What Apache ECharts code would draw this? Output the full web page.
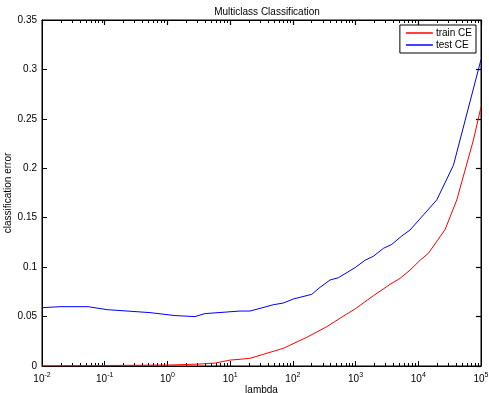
<!DOCTYPE html>
<html>
<head>
<meta charset="utf-8">
<script src="https://cdn.jsdelivr.net/npm/echarts@6/dist/echarts.min.js"></script>
<style>
  html, body { margin: 0; padding: 0; background: #fff; }
  #chart { width: 489px; height: 393px; }
</style>
</head>
<body>
<div id="chart"></div>
<script>
// values (lambda, classification error)
const trainLambda = [0.01, 1.1, 3.3, 5.8, 10, 14.4, 20.7, 33.8, 70.3, 166.7, 347.7, 724.4, 981.7, 1923, 3548, 5129, 7396, 10690, 14490, 26730, 41110, 75680, 100000];
const trainCE = [0.000, 0.001, 0.002, 0.003, 0.006, 0.0068, 0.0078, 0.0118, 0.0179, 0.029, 0.0398, 0.0526, 0.0577, 0.0711, 0.0826, 0.0887, 0.097, 0.107, 0.114, 0.138, 0.168, 0.2286, 0.262];

const testLambda = [0.01, 0.0194, 0.0542, 0.109, 0.527, 1.32, 2.75, 3.98, 14.4, 20.7, 30.0, 48.9, 70.6, 101.9, 200, 271.6, 391.7, 532.1, 981.7, 1419, 1923, 2773, 3776, 5458, 7396, 19720, 36310, 100000];
const testCE = [0.059, 0.060, 0.060, 0.057, 0.054, 0.051, 0.050, 0.053, 0.0556, 0.0556, 0.0583, 0.062, 0.0637, 0.0678, 0.0725, 0.0796, 0.087, 0.0893, 0.0995, 0.107, 0.111, 0.119, 0.123, 0.1315, 0.1376, 0.168, 0.203, 0.31];

const yTicks = [0, 0.05, 0.1, 0.15, 0.2, 0.25, 0.3, 0.35];

// minor log ticks 2..9 in every decade
const minorTicks = [];
for (let d = -2; d < 5; d++) {
  for (let k = 2; k <= 9; k++) minorTicks.push(k * Math.pow(10, d));
}

const font = 'Liberation Sans, Arial, Helvetica, sans-serif';
const chart = echarts.init(document.getElementById('chart'));

const baseX = {
  type: 'log',
  logBase: 10,
  min: 0.01,
  max: 100000,
  splitLine: { show: false },
  axisLine: { show: false, onZero: false },
  axisLabel: { show: false },
};

const baseY = {
  type: 'value',
  min: 0,
  max: 0.35,
  interval: 0.05,
  splitLine: { show: false },
  axisLine: { show: true, onZero: false, lineStyle: { color: '#000', width: 1 } },
  axisTick: { show: true, inside: true, length: 5, lineStyle: { color: '#000', width: 1 } },
};

chart.setOption({
  animation: false,
  backgroundColor: '#fff',
  textStyle: { fontFamily: font },
  title: {
    text: 'Multiclass Classification',
    left: 262,
    textAlign: 'center',
    top: 2,
    textStyle: { fontSize: 10, fontWeight: 'normal', color: '#000', fontFamily: font },
  },
  legend: {
    orient: 'vertical',
    right: 13,
    top: 25,
    padding: [3, 4, 3, 6],
    itemGap: 2,
    itemWidth: 27,
    itemHeight: 1.5,
    icon: 'rect',
    backgroundColor: '#fff',
    borderColor: '#000',
    borderWidth: 1,
    borderRadius: 0,
    textStyle: { fontSize: 10, color: '#000', fontFamily: font, padding: [0, 0, 0, -2] },
    data: ['train CE', 'test CE'],
  },
  grid: {
    left: 42, right: 8, top: 20, bottom: 27,
    outerBoundsMode: 'none',
    show: true,
    backgroundColor: 'transparent',
    borderColor: '#000',
    borderWidth: 1,
  },
  xAxis: [
    Object.assign({}, baseX, {
      position: 'bottom',
      name: 'lambda',
      nameLocation: 'middle',
      nameGap: 19,
      nameMoveOverlap: false,
      nameTextStyle: { fontSize: 10, color: '#000', fontFamily: font },
      axisLine: { show: true, onZero: false, lineStyle: { color: '#000', width: 1 } },
      axisTick: { show: true, inside: true, length: 5, lineStyle: { color: '#000' } },
      axisLabel: {
        show: true,
        color: '#000',
        fontSize: 10,
        margin: 6,
        formatter: v => '10{sup|' + Math.round(Math.log10(v)) + '}',
        rich: { sup: { fontSize: 7, padding: [0, 0, 7, 0], color: '#000' } },
      },
    }),
    Object.assign({}, baseX, {
      position: 'bottom',
      axisTick: { show: true, inside: true, length: 3, customValues: minorTicks, lineStyle: { color: '#000' } },
    }),
    Object.assign({}, baseX, {
      position: 'top',
      axisLine: { show: true, onZero: false, lineStyle: { color: '#000', width: 1 } },
      axisTick: { show: true, inside: true, length: 5, lineStyle: { color: '#000', width: 1.2 } },
    }),
    Object.assign({}, baseX, {
      position: 'top',
      axisTick: { show: true, inside: true, length: 3, customValues: minorTicks, lineStyle: { color: '#000' } },
    }),
  ],
  yAxis: [
    Object.assign({}, baseY, {
      position: 'left',
      name: 'classification error',
      nameLocation: 'middle',
      nameGap: 29,
      nameMoveOverlap: false,
      nameTextStyle: { fontSize: 10, color: '#000', fontFamily: font },
      axisLabel: {
        color: '#000',
        fontSize: 10,
        margin: 5,
        customValues: yTicks,
        formatter: v => String(parseFloat(v.toFixed(2))),
      },
    }),
    Object.assign({}, baseY, {
      position: 'right',
      axisTick: { show: true, inside: true, length: 5, lineStyle: { color: '#000', width: 1.2 } },
      axisLabel: { show: false },
    }),
  ],
  series: [
    {
      name: 'train CE',
      type: 'line',
      xAxisIndex: 0,
      yAxisIndex: 0,
      showSymbol: false,
      symbol: 'none',
      color: '#ff0000',
      lineStyle: { width: 1, color: '#ff0000' },
      data: trainLambda.map((l, i) => [l, trainCE[i]]),
    },
    {
      name: 'test CE',
      type: 'line',
      xAxisIndex: 0,
      yAxisIndex: 0,
      showSymbol: false,
      symbol: 'none',
      color: '#0000ff',
      lineStyle: { width: 1, color: '#0000ff' },
      data: testLambda.map((l, i) => [l, testCE[i]]),
    },
  ],
});
</script>
</body>
</html>
